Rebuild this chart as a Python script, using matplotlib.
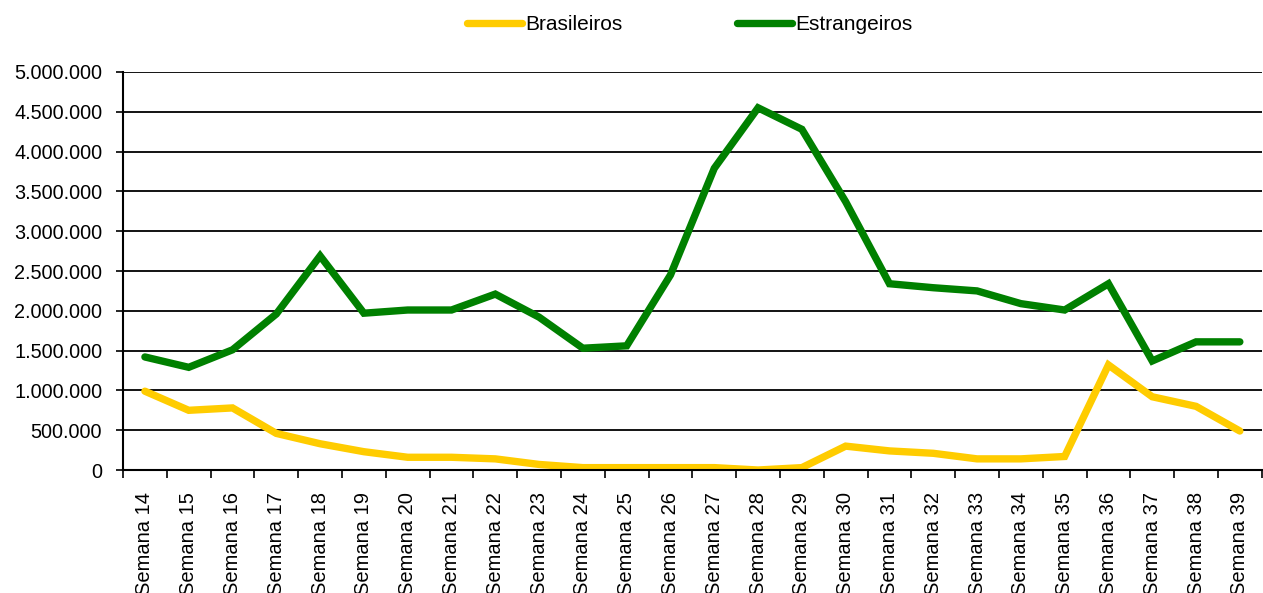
import numpy as np
import matplotlib
matplotlib.use("Agg")
import matplotlib.pyplot as plt
from matplotlib.ticker import FuncFormatter, FixedLocator

plt.rcParams['font.family'] = ['Liberation Sans', 'DejaVu Sans']

semanas = [f"Semana {i}" for i in range(14, 40)]

brasileiros = [990000, 750000, 780000, 460000, 330000, 230000, 160000, 160000,
               140000, 70000, 30000, 30000, 30000, 30000, 0, 30000,
               300000, 240000, 210000, 140000, 140000, 170000, 1320000,
               920000, 800000, 490000]

estrangeiros = [1420000, 1290000, 1510000, 1960000, 2690000, 1970000, 2010000,
                2010000, 2210000, 1920000, 1530000, 1560000, 2450000, 3790000,
                4550000, 4280000, 3370000, 2340000, 2290000, 2250000, 2090000,
                2010000, 2340000, 1370000, 1610000, 1610000]

fig = plt.figure(figsize=(12.63, 5.93), dpi=100)
ax = fig.add_axes([0.0974, 0.2074, 0.9016, 0.6712])

x = np.arange(len(semanas))
ax.plot(x, brasileiros, color="#FFCC00", lw=5.3, label="Brasileiros",
        solid_capstyle="round", solid_joinstyle="miter")
ax.plot(x, estrangeiros, color="#008000", lw=5.3, label="Estrangeiros",
        solid_capstyle="round", solid_joinstyle="miter")

ax.set_xlim(-0.5, len(semanas) - 0.5)
ax.set_ylim(0, 5000000)
ax.set_yticks(np.arange(0, 5000001, 500000))
ax.yaxis.set_major_formatter(FuncFormatter(lambda v, p: f"{int(v):,}".replace(",", ".")))
ax.grid(axis="y", color="black", lw=1.3)
ax.set_axisbelow(True)

ax.set_xticks(x)
ax.set_xticklabels(semanas, rotation=90)
ax.xaxis.set_minor_locator(FixedLocator(np.arange(-0.5, len(semanas), 1)))
ax.tick_params(axis="x", which="major", length=0, pad=16, labelsize=14.5)
ax.tick_params(axis="x", which="minor", length=6, width=1.2, direction="out")
ax.tick_params(axis="y", length=5, width=1.2, labelsize=14.3, pad=10)

for s in ["top", "right"]:
    ax.spines[s].set_visible(False)
ax.spines["left"].set_linewidth(1.5)
ax.spines["bottom"].set_linewidth(1.5)

fig.legend(loc="center", bbox_to_anchor=(0.546, 0.958), ncol=2, frameon=False,
           fontsize=15, handlelength=2.65, handletextpad=0.15, columnspacing=5.5)

fig.savefig("out.png", dpi=100)
